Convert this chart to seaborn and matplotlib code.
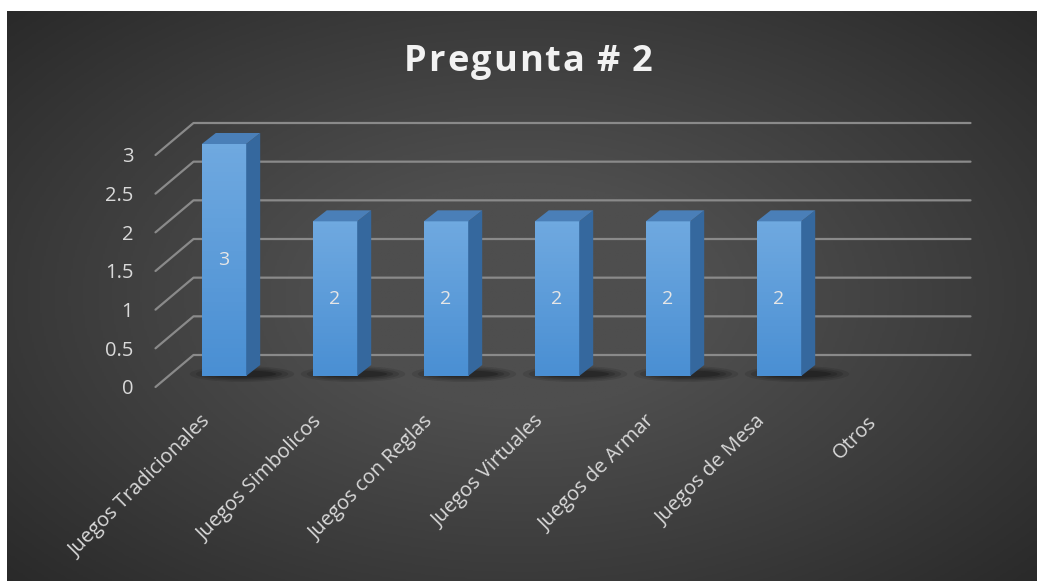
import numpy as np
import pandas as pd
import matplotlib
matplotlib.use("Agg")
import matplotlib.pyplot as plt
import matplotlib.transforms as mtransforms
from matplotlib.patches import Polygon, Ellipse
from matplotlib.lines import Line2D
from matplotlib.colors import LinearSegmentedColormap
import seaborn as sns

# datos de la grafica
categorias = ["Juegos Tradicionales", "Juegos Simbolicos", "Juegos con Reglas",
              "Juegos Virtuales", "Juegos de Armar", "Juegos de Mesa", "Otros"]
valores = [3, 2, 2, 2, 2, 2, np.nan]
ticks_y = [0, 0.5, 1, 1.5, 2, 2.5, 3]
etiquetas_y = ["0", "0.5", "1", "1.5", "2", "2.5", "3"]
titulo = "Pregunta # 2"

sns.set_style("white")
plt.rcParams["font.family"] = ["Open Sans", "DejaVu Sans"]

W, H = 1037, 581
fig = plt.figure(figsize=(W / 100, H / 100), dpi=100)
fig.patch.set_facecolor("white")

# fondo con degradado radial
bg = fig.add_axes([7 / W, 0, (W - 7) / W, (H - 11) / H])
yy, xx = np.mgrid[0:1:300j, 0:1:500j]
r = np.sqrt(((xx - 0.5) / 0.75) ** 2 + ((yy - 0.5) / 0.8) ** 2)
grad = np.clip(1 - r, 0, 1)
cm_bg = LinearSegmentedColormap.from_list("bg", ["#252525", "#3a3a3a", "#4e4e4e"])
bg.imshow(grad, cmap=cm_bg, aspect="auto", extent=[0, 1, 0, 1], vmin=0, vmax=0.75)
bg.axis("off")
bg.set_zorder(-10)

# ejes principales (plano frontal de las barras)
ax = fig.add_axes([168.5 / W, (H - 376) / H, 777 / W, 232 / H])
ax.patch.set_alpha(0)
df = pd.DataFrame({"cat": categorias, "val": valores})
sns.barplot(data=df, x="cat", y="val", order=categorias, color="#5b9bd5",
            width=0.4, saturation=1, ax=ax, zorder=5, linewidth=0)
ax.set_xlim(-0.5, 6.5)
ax.set_ylim(0, 3)
ax.set_xlabel("")
ax.set_ylabel("")
for s in ax.spines.values():
    s.set_visible(False)
ax.tick_params(length=0)

fig.canvas.draw()
T = ax.transData
ident = mtransforms.IdentityTransform()

# desplazamientos de profundidad (pixeles)
front = np.array([-13, -11])
back = np.array([25, 21])
gcol = "#8a8a8a"
x_izq = T.transform((-0.5, 0))[0]
x_der = T.transform((6.5, 0))[0]
for t in ticks_y:
    yd = T.transform((0, t))[1]
    p0 = np.array([x_izq, yd]) + front
    p1 = np.array([x_izq, yd]) + back
    p2 = np.array([x_der, yd]) + back
    ax.add_line(Line2D([p0[0], p1[0], p2[0]], [p0[1], p1[1], p2[1]],
                       transform=ident, color=gcol, lw=1.6, zorder=1, clip_on=False))

# caras 3D de las barras
dx, dy = 14, 11
cm_bar = LinearSegmentedColormap.from_list("bar", ["#4a8fd3", "#6fa9e0"])
for p, v in zip(ax.patches, valores):
    if np.isnan(v) or p.get_height() == 0:
        continue
    x0, y0 = p.get_x(), p.get_y()
    x1, y1 = x0 + p.get_width(), y0 + p.get_height()
    (a0, b0), (a1, b1) = T.transform([(x0, y0), (x1, y1)])
    # sombra
    for k, al in enumerate([0.10, 0.12, 0.15, 0.2]):
        e = Ellipse(((a0 + a1) / 2 + 18, b0 + 2), (a1 - a0) + 60 - 12 * k, 16 - 3 * k,
                    transform=ident, color="black", alpha=al, lw=0, zorder=2,
                    clip_on=False)
        ax.add_patch(e)
    # cara frontal con degradado
    im = ax.imshow(np.linspace(0, 1, 50).reshape(-1, 1), cmap=cm_bar, aspect="auto",
                   extent=[x0, x1, y0, y1], origin="lower", zorder=6)
    im.set_clip_path(p)
    side = Polygon([(a1, b0), (a1 + dx, b0 + dy), (a1 + dx, b1 + dy), (a1, b1)],
                   closed=True, transform=ident, facecolor="#35689e", lw=0, zorder=6,
                   clip_on=False)
    top = Polygon([(a0, b1), (a0 + dx, b1 + dy), (a1 + dx, b1 + dy), (a1, b1)],
                  closed=True, transform=ident, facecolor="#4a7fb8", lw=0, zorder=6,
                  clip_on=False)
    ax.add_patch(side)
    ax.add_patch(top)
    ax.text((x0 + x1) / 2, y1 / 2, f"{int(v)}", ha="center", va="center",
            color="#e6e6e6", fontsize=14, zorder=8)
ax.set_xlim(-0.5, 6.5)
ax.set_ylim(0, 3)

# etiquetas eje y en el plano frontal
ax.set_yticks(ticks_y)
ax.set_yticklabels(etiquetas_y, color="#d9d9d9", fontsize=14.5)
ax.tick_params(axis="y", pad=16)
off_y = mtransforms.ScaledTranslation(-13 / 100, -11 / 100, fig.dpi_scale_trans)
for lab in ax.get_yticklabels():
    lab.set_transform(lab.get_transform() + off_y)

# etiquetas eje x rotadas
ax.set_xticks(range(len(categorias)))
ax.set_xticklabels(categorias, rotation=45, ha="right", va="center",
                   rotation_mode="anchor", color="#d9d9d9", fontsize=14.5)
ax.tick_params(axis="x", pad=0)
off_x = mtransforms.ScaledTranslation(-16 / 100, -43 / 100, fig.dpi_scale_trans)
for lab in ax.get_xticklabels():
    lab.set_transform(lab.get_transform() + off_x)

# titulo con espaciado entre letras
rend = fig.canvas.get_renderer()
kw = dict(fontsize=26, fontweight="bold", color="#f2f2f2", va="center", ha="left")
esp = 2.0
anchos = []
for ch in titulo:
    if ch == " ":
        anchos.append(8.0)
        continue
    tt = fig.text(0, 0, ch, **kw)
    anchos.append(tt.get_window_extent(rend).width)
    tt.remove()
total = sum(anchos) + esp * (len(titulo) - 1)
xc = 528 - total / 2
for ch, w in zip(titulo, anchos):
    if ch != " ":
        fig.text(xc / W, 1 - 62 / H, ch, **kw)
    xc += w + esp

fig.savefig("out.png", dpi=100)
